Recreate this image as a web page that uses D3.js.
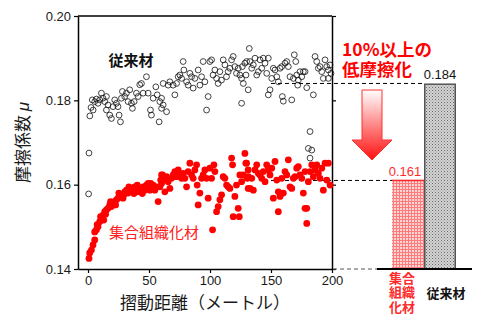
<!DOCTYPE html>
<html><head><meta charset="utf-8">
<script src="https://cdn.jsdelivr.net/npm/d3@7"></script>
<style>body{margin:0;background:#fff}svg{display:block}</style>
</head><body><svg id="c" width="498" height="323"></svg>
<script>
const xTicks=[0,50,100,150,200];
const yTicks=[0.14,0.16,0.18,0.20];
const xLabel="摺動距離（メートル）";
const yLabelMain="摩擦係数 ";
const yLabelSym="μ";
const conventionalName="従来材";
const texturedName="集合組織化材";

const conventionalX=[0.5,0.8,1.5,2.5,3.5,4.2,5.5,6.9,8.2,9.6,11.0,12.3,13.7,15.1,15.1,16.4,17.8,19.2,20.5,21.9,23.3,24.6,25.5,26.6,27.4,28.2,30.1,31.5,32.8,34.2,35.6,36.4,37.8,39.7,41.1,42.4,43.8,45.2,47.9,49.3,51.2,52.0,53.4,55.6,56.7,58.3,58.9,60.3,61.6,60.3,61.6,64.4,65.7,67.1,69.8,71.2,72.6,73.9,75.3,76.7,78.0,78.6,80.8,82.1,83.5,84.9,86.2,87.6,90.3,91.7,93.1,94.4,95.8,97.2,98.5,99.9,101.3,102.5,104.0,105.4,106.7,108.1,109.4,110.8,112.2,113.5,114.9,116.3,117.7,119.0,120.4,121.7,123.1,124.5,125.9,125.9,126.5,127.3,128.6,129.5,131.3,132.2,132.7,130.0,134.2,135.5,136.9,138.3,139.6,141.0,142.4,143.7,145.1,146.5,147.8,149.2,147.8,150.6,151.9,153.3,154.7,156.0,157.4,158.8,159.3,160.1,161.5,162.9,164.2,165.6,167.0,168.3,169.1,170.3,171.1,171.9,172.4,173.8,175.2,176.5,177.9,179.3,182.0,180.6,183.4,182.0,184.7,186.1,187.5,188.8,190.2,191.6,192.9,194.3,195.7,197.0,197.0,198.4,199.2];
const conventionalMu=[0.1578,0.1675,0.1763,0.1783,0.1801,0.1777,0.1797,0.1803,0.1793,0.1801,0.1817,0.1805,0.1797,0.1809,0.1777,0.1789,0.1765,0.1757,0.1785,0.1801,0.1793,0.1785,0.1765,0.1749,0.1805,0.1821,0.1809,0.1817,0.1797,0.1825,0.1793,0.1781,0.1797,0.1817,0.1809,0.1837,0.1840,0.1817,0.1856,0.1817,0.1777,0.1765,0.1805,0.1832,0.1813,0.1749,0.1797,0.1781,0.1840,0.1805,0.1789,0.1773,0.1836,0.1844,0.1836,0.1813,0.1840,0.1856,0.1860,0.1852,0.1892,0.1872,0.1844,0.1836,0.1864,0.1856,0.1829,0.1852,0.1872,0.1836,0.1856,0.1892,0.1844,0.1777,0.1809,0.1892,0.1896,0.1860,0.1872,0.1852,0.1840,0.1868,0.1848,0.1896,0.1884,0.1856,0.1868,0.1876,0.1896,0.1904,0.1880,0.1864,0.1876,0.1860,0.1852,0.1793,0.1880,0.1840,0.1888,0.1860,0.1825,0.1923,0.1892,0.1892,0.1876,0.1884,0.1900,0.1860,0.1868,0.1896,0.1876,0.1900,0.1888,0.1864,0.1900,0.1825,0.1813,0.1852,0.1876,0.1872,0.1856,0.1844,0.1876,0.1880,0.1809,0.1798,0.1888,0.1892,0.1880,0.1856,0.1801,0.1852,0.1908,0.1892,0.1860,0.1836,0.1848,0.1868,0.1856,0.1868,0.1868,0.1830,0.1726,0.1686,0.1682,0.1663,0.1813,0.1904,0.1892,0.1876,0.1880,0.1868,0.1852,0.1896,0.1880,0.1872,0.1852,0.1884,0.1864];

const texturedX=[0.8,1.4,2.8,4.1,5.5,5.5,6.9,7.5,8.2,9.6,10.3,11.0,12.3,12.9,13.7,14.4,15.1,16.4,17.8,18.5,19.2,20.5,21.9,22.6,23.3,24.6,25.3,26.0,27.4,28.7,29.4,30.1,31.5,32.8,33.5,34.2,35.6,36.9,37.6,38.3,39.7,40.4,41.1,42.4,43.8,44.5,45.2,46.6,47.9,49.3,50.7,51.4,52.0,53.4,54.8,56.2,57.5,58.9,59.6,60.3,61.1,60.3,61.6,63.0,64.4,65.7,67.1,68.5,69.8,71.2,72.6,73.9,75.3,76.7,78.0,79.4,80.8,82.1,83.5,84.9,86.2,87.6,89.0,89.5,90.3,91.7,93.1,94.4,95.8,97.2,98.5,99.9,101.3,102.1,103.2,104.0,105.4,106.7,108.1,109.5,110.8,112.2,113.6,114.9,116.3,117.7,118.5,119.0,120.4,121.7,123.1,124.0,124.5,125.9,127.3,128.6,129.4,130.5,131.3,131.3,130.0,131.4,132.8,134.2,135.5,136.9,138.3,139.6,141.0,142.4,143.7,145.1,146.5,147.8,149.2,150.6,151.9,153.3,154.7,156.0,156.0,157.4,158.8,160.1,161.5,162.9,164.2,165.6,167.0,168.3,169.7,171.1,172.4,173.8,175.2,176.5,177.9,177.9,179.3,179.3,180.6,182.0,183.4,184.7,186.1,187.5,188.8,190.2,191.6,192.9,194.3,195.7,197.0,198.4];
const texturedMu=[0.1425,0.1438,0.1445,0.1457,0.1469,0.1488,0.1493,0.1505,0.1500,0.1512,0.1524,0.1520,0.1528,0.1516,0.1536,0.1530,0.1540,0.1544,0.1552,0.1560,0.1548,0.1556,0.1560,0.1552,0.1564,0.1568,0.1580,0.1572,0.1576,0.1568,0.1576,0.1583,0.1587,0.1580,0.1595,0.1591,0.1583,0.1587,0.1579,0.1595,0.1583,0.1599,0.1591,0.1583,0.1587,0.1579,0.1595,0.1587,0.1599,0.1603,0.1587,0.1603,0.1595,0.1599,0.1587,0.1595,0.1560,0.1595,0.1611,0.1603,0.1623,0.1623,0.1611,0.1583,0.1619,0.1607,0.1591,0.1615,0.1623,0.1631,0.1619,0.1635,0.1623,0.1615,0.1627,0.1615,0.1595,0.1631,0.1651,0.1623,0.1615,0.1635,0.1647,0.1599,0.1552,0.1580,0.1615,0.1623,0.1635,0.1615,0.1568,0.1639,0.1615,0.1493,0.1647,0.1631,0.1536,0.1548,0.1564,0.1576,0.1619,0.1615,0.1599,0.1595,0.1591,0.1663,0.1647,0.1524,0.1572,0.1599,0.1544,0.1524,0.1623,0.1607,0.1623,0.1674,0.1651,0.1615,0.1591,0.1635,0.1651,0.1619,0.1591,0.1615,0.1587,0.1635,0.1647,0.1627,0.1623,0.1615,0.1631,0.1607,0.1647,0.1635,0.1623,0.1639,0.1568,0.1655,0.1611,0.1583,0.1536,0.1572,0.1615,0.1580,0.1631,0.1623,0.1659,0.1595,0.1591,0.1615,0.1619,0.1639,0.1643,0.1623,0.1615,0.1580,0.1631,0.1544,0.1544,0.1508,0.1607,0.1631,0.1647,0.1619,0.1635,0.1647,0.1627,0.1615,0.1639,0.1587,0.1651,0.1611,0.1651,0.1599];

const barCategories=["集合組織化材","従来材"];
const barValues=[0.161,0.184];
const barValueLabels=["0.161","0.184"];
const barCategoryLines=[["集合","組織","化材"],["従来材"]];
const barColors=["#ff2a2a","#111"];
const calloutLines=["10%以上の","低摩擦化"];

const svg=d3.select("#c");
const defs=svg.append("defs");
const x=d3.scaleLinear().domain([-8.2,200]).range([78,332]);
const y=d3.scaleLinear().domain([0.14,0.20]).range([269,16]);
const xb=d3.scaleBand().domain(barCategories).range([392,456]).padding(0);

// patterns
const pr=defs.append("pattern").attr("id","pRed").attr("width",3).attr("height",3).attr("patternUnits","userSpaceOnUse");
pr.append("rect").attr("width",3).attr("height",3).attr("fill","#ffd6d6");
pr.append("rect").attr("width",3).attr("height",1).attr("fill","#ff7a7a");
pr.append("rect").attr("width",1).attr("height",3).attr("fill","#ff7a7a");
const pg=defs.append("pattern").attr("id","pGray").attr("width",3).attr("height",3).attr("patternUnits","userSpaceOnUse");
pg.append("rect").attr("width",3).attr("height",3).attr("fill","#d4d4d4");
pg.append("rect").attr("width",1).attr("height",1).attr("fill","#6a6a6a");
pg.append("rect").attr("x",1.5).attr("y",1.5).attr("width",1).attr("height",1).attr("fill","#8a8a8a");
const grad=defs.append("linearGradient").attr("id","gArrow").attr("x1",0).attr("y1",0).attr("x2",0).attr("y2",1);
grad.append("stop").attr("offset","0%").attr("stop-color","#ffffff");
grad.append("stop").attr("offset","100%").attr("stop-color","#ff1010");

const tickFont='"Liberation Sans", Arial, sans-serif';
const jpFont='"Noto Sans CJK JP", "Noto Sans", sans-serif';

// axes
const fmt=d3.format(".2f");
const gl=svg.append("g").attr("transform","translate(78,0)")
  .call(d3.axisLeft(y).tickValues(yTicks).tickFormat(fmt).tickSize(4).tickSizeOuter(0).tickPadding(3));
const gr=svg.append("g").attr("transform","translate(332,0)")
  .call(d3.axisRight(y).tickValues(yTicks).tickFormat("").tickSize(4).tickSizeOuter(0));
const gb=svg.append("g").attr("transform","translate(0,269)")
  .call(d3.axisBottom(x).tickValues(xTicks).tickFormat(d3.format("d")).tickSize(4).tickSizeOuter(0).tickPadding(3));
[gl,gr,gb].forEach(g=>{
  g.selectAll("path.domain").attr("stroke","#000").attr("stroke-width",1.5);
  g.selectAll(".tick line").attr("stroke","#000").attr("stroke-width",1.2);
  g.selectAll("text").attr("font-family",tickFont).attr("font-size",13).attr("fill","#1a1a1a");
});
svg.append("line").attr("x1",x(-8.2)).attr("x2",x(200)).attr("y1",y(0.20)).attr("y2",y(0.20)).attr("stroke","#000").attr("stroke-width",1.5);

// axis labels
svg.append("text").attr("x",(x(-8.2)+x(200))/2).attr("y",309).attr("text-anchor","middle")
  .attr("font-family",jpFont).attr("font-size",17).attr("fill","#1a1a1a").text(xLabel);
const yl=svg.append("text").attr("transform",`translate(29,${(y(0.14)+y(0.20))/2}) rotate(-90)`).attr("text-anchor","middle")
  .attr("font-family",jpFont).attr("font-size",17).attr("fill","#1a1a1a");
yl.append("tspan").text(yLabelMain);
yl.append("tspan").attr("font-family",tickFont).attr("font-style","italic").text(yLabelSym);

// dashed guide lines
const dash="4,3";
svg.append("line").attr("x1",x(150)).attr("x2",xb("従来材")).attr("y1",y(barValues[1])).attr("y2",y(barValues[1]))
  .attr("stroke","#000").attr("stroke-dasharray",dash).attr("stroke-width",1);
svg.append("line").attr("x1",x(150)).attr("x2",xb("集合組織化材")).attr("y1",y(barValues[0])).attr("y2",y(barValues[0]))
  .attr("stroke","#000").attr("stroke-dasharray",dash).attr("stroke-width",1);
svg.append("line").attr("x1",x(200)+1).attr("x2",xb("集合組織化材")-15).attr("y1",y(0.14)).attr("y2",y(0.14))
  .attr("stroke","#555").attr("stroke-dasharray",dash).attr("stroke-width",1);

// scatter
svg.append("g").selectAll("circle").data(conventionalX.map((d,i)=>[d,conventionalMu[i]])).join("circle")
  .attr("cx",d=>x(d[0])).attr("cy",d=>y(d[1])).attr("r",2.9)
  .attr("fill","none").attr("stroke","#111").attr("stroke-width",0.8);
svg.append("g").selectAll("circle").data(texturedX.map((d,i)=>[d,texturedMu[i]])).join("circle")
  .attr("cx",d=>x(d[0])).attr("cy",d=>y(d[1])).attr("r",3.4).attr("fill","#ff0000");

// in-plot labels
svg.append("text").attr("x",131).attr("y",66).attr("text-anchor","middle").attr("font-family",jpFont)
  .attr("font-size",15).attr("font-weight","bold").attr("fill","#111").text(conventionalName);
svg.append("text").attr("x",154).attr("y",238).attr("text-anchor","middle").attr("font-family",jpFont)
  .attr("font-size",15).attr("fill","#ff2020").text(texturedName);

// bars
const bars=svg.append("g");
bars.append("rect").attr("x",xb(barCategories[0])).attr("y",y(barValues[0])).attr("width",xb.bandwidth())
  .attr("height",y(0.14)-y(barValues[0])).attr("fill","url(#pRed)");
bars.append("line").attr("x1",xb(barCategories[0])).attr("x2",xb(barCategories[0])+xb.bandwidth())
  .attr("y1",y(barValues[0])).attr("y2",y(barValues[0])).attr("stroke","#ff2020").attr("stroke-width",1.5);
bars.append("rect").attr("x",xb(barCategories[1])+0.75).attr("y",y(barValues[1])+0.75).attr("width",xb.bandwidth()-1.5)
  .attr("height",y(0.14)-y(barValues[1])-0.75).attr("fill","url(#pGray)").attr("stroke","#555").attr("stroke-width",1.5);
svg.append("line").attr("x1",xb("集合組織化材")-15).attr("x2",xb("従来材")+xb.bandwidth()+16)
  .attr("y1",y(0.14)).attr("y2",y(0.14)).attr("stroke","#000").attr("stroke-width",2.2);

barCategories.forEach((c,i)=>{
  svg.append("text").attr("x",xb(c)+xb.bandwidth()/2-(i===0?3:0)).attr("y",y(barValues[i])-4).attr("text-anchor","middle")
    .attr("font-family",tickFont).attr("font-size",13).attr("fill",barColors[i]).text(barValueLabels[i]);
  const lines=barCategoryLines[i];
  const cx=xb(c)+xb.bandwidth()/2+(i===0?-6:6);
  const startY=i===0?283:298;
  const t=svg.append("text").attr("x",cx).attr("y",startY).attr("text-anchor","middle")
    .attr("font-family",jpFont).attr("font-size",13).attr("font-weight","bold").attr("fill",barColors[i]);
  lines.forEach((ln,j)=>{
    t.append("tspan").attr("x",cx).attr("dy",j===0?0:14.3).text(ln);
  });
});

// arrow + callout
const ax=372;
const arrow=[[ax-10,90],[ax+10,90],[ax+10,140],[ax+20,140],[ax,160],[ax-20,140],[ax-10,140]];
svg.append("polygon").attr("points",arrow.map(p=>p.join(",")).join(" "))
  .attr("fill","url(#gArrow)").attr("stroke","#ff3030").attr("stroke-width",1);
const co=svg.append("text").attr("x",342).attr("y",55.5).attr("font-family",jpFont).attr("font-size",17.5)
  .attr("font-weight","bold").attr("fill","#ff0000");
calloutLines.forEach((t,i)=>{
  co.append("tspan").attr("x",342).attr("dy",i===0?0:20).text(t);
});
</script></body></html>
